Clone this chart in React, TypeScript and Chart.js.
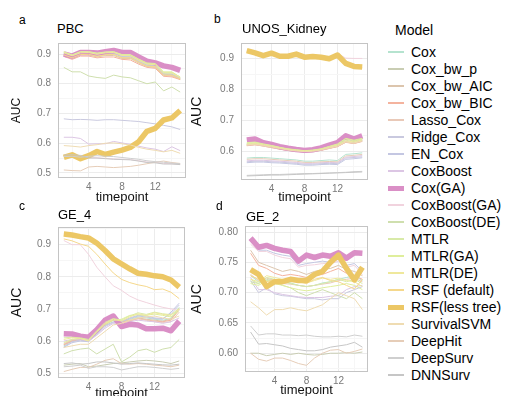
import React, { useEffect, useRef } from "react";
import { Chart, registerables } from "chart.js";

Chart.register(...registerables);

const TIMEPOINTS = [1, 2, 3, 4, 5, 6, 7, 8, 9, 10, 11, 12, 13, 14, 15];
const X_TICKS = [4, 8, 12];

const MODELS = [
  "Cox", "Cox_bw_p", "Cox_bw_AIC", "Cox_bw_BIC", "Lasso_Cox", "Ridge_Cox", "EN_Cox", "CoxBoost",
  "Cox(GA)", "CoxBoost(GA)", "CoxBoost(DE)", "MTLR", "MTLR(GA)", "MTLR(DE)", "RSF (default)",
  "RSF(less tree)", "SurvivalSVM", "DeepHit", "DeepSurv", "DNNSurv",
];
const HIGHLIGHTED = ["Cox(GA)", "RSF(less tree)"];
const MODEL_COLORS = [
  "#b5e3cf", "#c9cdb3", "#dcc5ad", "#f4b39e", "#e9c9b8", "#c9c9df", "#c4c7e2", "#dcc6e4",
  "#da8fc6", "#f1d3de", "#cfdfae", "#d8eaa8", "#dfee9c", "#efe89c", "#f5d88c",
  "#ecc765", "#efdcb2", "#e6cdb8", "#cfcfcf", "#c6c6c6",
];

// PBC: one row per model (MODELS order), one value per timepoint
const PBC_AUC = [
  [0.905, 0.895, 0.905, 0.905, 0.900, 0.905, 0.905, 0.895, 0.895, 0.880, 0.865, 0.865, 0.835, 0.835, 0.820],
  [0.900, 0.890, 0.900, 0.902, 0.895, 0.900, 0.902, 0.890, 0.890, 0.875, 0.862, 0.860, 0.832, 0.830, 0.818],
  [0.895, 0.885, 0.897, 0.897, 0.890, 0.895, 0.895, 0.885, 0.885, 0.870, 0.858, 0.855, 0.828, 0.826, 0.815],
  [0.892, 0.882, 0.893, 0.893, 0.887, 0.890, 0.890, 0.882, 0.880, 0.866, 0.855, 0.852, 0.825, 0.823, 0.814],
  [0.898, 0.888, 0.900, 0.900, 0.893, 0.898, 0.898, 0.888, 0.888, 0.873, 0.860, 0.858, 0.830, 0.828, 0.817],
  [0.682, 0.679, 0.680, 0.679, 0.677, 0.679, 0.679, 0.677, 0.675, 0.673, 0.669, 0.665, 0.660, 0.655, 0.646],
  [0.902, 0.892, 0.902, 0.903, 0.897, 0.902, 0.903, 0.892, 0.892, 0.877, 0.863, 0.862, 0.833, 0.832, 0.819],
  [0.620, 0.620, 0.616, 0.597, 0.598, 0.598, 0.606, 0.601, 0.596, 0.590, 0.584, 0.580, 0.572, 0.588, 0.575],
  [0.900, 0.893, 0.905, 0.905, 0.903, 0.908, 0.912, 0.905, 0.905, 0.890, 0.876, 0.870, 0.860, 0.855, 0.845],
  [0.560, 0.560, 0.558, 0.552, 0.551, 0.549, 0.547, 0.546, 0.545, 0.541, 0.537, 0.536, 0.532, 0.531, 0.529],
  [0.855, 0.840, 0.840, 0.826, 0.821, 0.818, 0.829, 0.823, 0.820, 0.810, 0.800, 0.806, 0.776, 0.789, 0.772],
  [0.906, 0.896, 0.907, 0.907, 0.902, 0.906, 0.907, 0.897, 0.897, 0.882, 0.868, 0.867, 0.838, 0.838, 0.823],
  [0.908, 0.897, 0.908, 0.908, 0.903, 0.907, 0.908, 0.898, 0.898, 0.883, 0.870, 0.868, 0.840, 0.840, 0.822],
  [0.904, 0.894, 0.904, 0.905, 0.899, 0.904, 0.905, 0.895, 0.894, 0.879, 0.866, 0.864, 0.836, 0.836, 0.821],
  [0.897, 0.887, 0.898, 0.899, 0.892, 0.897, 0.898, 0.887, 0.887, 0.872, 0.859, 0.857, 0.829, 0.829, 0.816],
  [0.552, 0.561, 0.548, 0.558, 0.572, 0.562, 0.570, 0.577, 0.586, 0.605, 0.640, 0.650, 0.678, 0.685, 0.710],
  [0.592, 0.590, 0.587, 0.592, 0.595, 0.600, 0.601, 0.598, 0.594, 0.586, 0.580, 0.576, 0.571, 0.576, 0.566],
  [0.510, 0.508, 0.507, 0.520, 0.522, 0.520, 0.518, 0.520, 0.522, 0.526, 0.531, 0.536, 0.540, 0.535, 0.532],
  [0.555, 0.556, 0.553, 0.556, 0.558, 0.556, 0.555, 0.552, 0.549, 0.546, 0.541, 0.538, 0.536, 0.533, 0.531],
  [0.560, 0.561, 0.559, 0.550, 0.550, 0.548, 0.546, 0.545, 0.544, 0.540, 0.535, 0.534, 0.530, 0.530, 0.528],
];

const UNOS_AUC = [
  [0.578, 0.580, 0.580, 0.578, 0.576, 0.574, 0.572, 0.568, 0.568, 0.570, 0.572, 0.570, 0.590, 0.592, 0.595],
  [0.622, 0.624, 0.620, 0.615, 0.610, 0.605, 0.602, 0.600, 0.601, 0.605, 0.612, 0.618, 0.632, 0.628, 0.635],
  [0.620, 0.622, 0.618, 0.613, 0.608, 0.604, 0.600, 0.598, 0.600, 0.604, 0.610, 0.616, 0.630, 0.626, 0.633],
  [0.618, 0.621, 0.617, 0.612, 0.607, 0.603, 0.600, 0.598, 0.599, 0.603, 0.609, 0.615, 0.629, 0.625, 0.632],
  [0.619, 0.622, 0.617, 0.612, 0.607, 0.603, 0.600, 0.598, 0.599, 0.603, 0.610, 0.616, 0.630, 0.626, 0.633],
  [0.566, 0.568, 0.568, 0.566, 0.565, 0.563, 0.561, 0.558, 0.558, 0.560, 0.561, 0.560, 0.578, 0.580, 0.582],
  [0.563, 0.565, 0.565, 0.563, 0.562, 0.560, 0.558, 0.555, 0.555, 0.557, 0.558, 0.557, 0.574, 0.576, 0.579],
  [0.569, 0.571, 0.571, 0.569, 0.568, 0.566, 0.564, 0.561, 0.561, 0.563, 0.564, 0.563, 0.581, 0.583, 0.586],
  [0.637, 0.640, 0.628, 0.622, 0.615, 0.610, 0.606, 0.603, 0.605, 0.611, 0.620, 0.628, 0.650, 0.640, 0.650],
  [0.928, 0.922, 0.915, 0.920, 0.912, 0.911, 0.917, 0.908, 0.910, 0.908, 0.905, 0.917, 0.902, 0.901, 0.901],
  [0.624, 0.626, 0.622, 0.617, 0.612, 0.607, 0.604, 0.602, 0.603, 0.607, 0.614, 0.621, 0.636, 0.631, 0.638],
  [0.626, 0.628, 0.623, 0.618, 0.612, 0.607, 0.604, 0.601, 0.603, 0.607, 0.615, 0.622, 0.640, 0.634, 0.640],
  [0.628, 0.630, 0.624, 0.619, 0.613, 0.608, 0.605, 0.602, 0.604, 0.608, 0.616, 0.624, 0.642, 0.636, 0.642],
  [0.623, 0.625, 0.621, 0.616, 0.611, 0.606, 0.603, 0.601, 0.602, 0.606, 0.613, 0.620, 0.634, 0.630, 0.637],
  [0.924, 0.917, 0.909, 0.916, 0.906, 0.906, 0.913, 0.903, 0.905, 0.903, 0.898, 0.910, 0.883, 0.873, 0.871],
  [0.926, 0.919, 0.910, 0.918, 0.908, 0.908, 0.915, 0.905, 0.907, 0.905, 0.900, 0.912, 0.885, 0.875, 0.873],
  [0.621, 0.623, 0.619, 0.614, 0.609, 0.604, 0.601, 0.599, 0.600, 0.604, 0.611, 0.617, 0.631, 0.627, 0.634],
  [0.574, 0.576, 0.576, 0.574, 0.572, 0.570, 0.568, 0.564, 0.564, 0.566, 0.567, 0.566, 0.585, 0.587, 0.590],
  [0.522, 0.523, 0.524, 0.525, 0.525, 0.526, 0.527, 0.528, 0.528, 0.529, 0.530, 0.531, 0.532, 0.534, 0.535],
  [0.520, 0.521, 0.522, 0.523, 0.523, 0.524, 0.525, 0.526, 0.527, 0.528, 0.529, 0.530, 0.531, 0.532, 0.533],
];

const GE4_AUC = [
  [0.585, 0.600, 0.605, 0.600, 0.625, 0.650, 0.665, 0.660, 0.668, 0.675, 0.672, 0.668, 0.665, 0.670, 0.705],
  [0.525, 0.528, 0.530, 0.520, 0.522, 0.526, 0.530, 0.532, 0.535, 0.538, 0.540, 0.538, 0.535, 0.530, 0.538],
  [0.590, 0.602, 0.606, 0.602, 0.628, 0.652, 0.668, 0.660, 0.665, 0.672, 0.668, 0.665, 0.662, 0.668, 0.700],
  [0.588, 0.600, 0.604, 0.600, 0.626, 0.650, 0.666, 0.658, 0.663, 0.670, 0.666, 0.662, 0.660, 0.665, 0.698],
  [0.592, 0.603, 0.607, 0.603, 0.630, 0.654, 0.668, 0.655, 0.662, 0.670, 0.665, 0.660, 0.658, 0.660, 0.690],
  [0.582, 0.598, 0.603, 0.600, 0.620, 0.645, 0.658, 0.660, 0.672, 0.680, 0.678, 0.672, 0.670, 0.685, 0.712],
  [0.580, 0.595, 0.600, 0.598, 0.622, 0.648, 0.660, 0.662, 0.670, 0.678, 0.675, 0.670, 0.668, 0.690, 0.718],
  [0.600, 0.605, 0.606, 0.600, 0.618, 0.640, 0.655, 0.648, 0.660, 0.665, 0.662, 0.660, 0.655, 0.660, 0.672],
  [0.623, 0.622, 0.615, 0.612, 0.635, 0.665, 0.678, 0.645, 0.652, 0.650, 0.638, 0.638, 0.640, 0.632, 0.662],
  [0.913, 0.900, 0.900, 0.870, 0.830, 0.800, 0.772, 0.758, 0.740, 0.728, 0.720, 0.712, 0.705, 0.700, 0.695],
  [0.560, 0.570, 0.575, 0.578, 0.560, 0.575, 0.590, 0.535, 0.550, 0.570, 0.575, 0.565, 0.575, 0.580, 0.605],
  [0.610, 0.612, 0.610, 0.605, 0.632, 0.658, 0.670, 0.665, 0.678, 0.688, 0.683, 0.690, 0.685, 0.682, 0.702],
  [0.595, 0.605, 0.608, 0.602, 0.628, 0.652, 0.664, 0.668, 0.680, 0.682, 0.680, 0.684, 0.680, 0.675, 0.695],
  [0.605, 0.610, 0.608, 0.600, 0.630, 0.655, 0.668, 0.662, 0.675, 0.685, 0.680, 0.688, 0.683, 0.680, 0.700],
  [0.918, 0.912, 0.902, 0.895, 0.870, 0.840, 0.812, 0.792, 0.782, 0.775, 0.770, 0.760, 0.762, 0.752, 0.732],
  [0.933, 0.930, 0.925, 0.921, 0.905, 0.882, 0.856, 0.840, 0.825, 0.811, 0.808, 0.803, 0.800, 0.790, 0.768],
  [0.580, 0.585, 0.590, 0.590, 0.610, 0.630, 0.650, 0.655, 0.665, 0.672, 0.675, 0.678, 0.672, 0.668, 0.678],
  [0.505, 0.512, 0.518, 0.518, 0.528, 0.540, 0.545, 0.530, 0.528, 0.530, 0.528, 0.525, 0.523, 0.520, 0.525],
  [0.520, 0.522, 0.525, 0.515, 0.520, 0.520, 0.518, 0.510, 0.515, 0.520, 0.520, 0.518, 0.515, 0.512, 0.515],
  [0.530, 0.532, 0.528, 0.530, 0.535, 0.535, 0.532, 0.528, 0.530, 0.532, 0.530, 0.528, 0.526, 0.525, 0.528],
];

const GE2_AUC = [
  [0.728, 0.718, 0.720, 0.722, 0.718, 0.716, 0.712, 0.710, 0.712, 0.716, 0.718, 0.722, 0.725, 0.728, 0.720],
  [0.600, 0.600, 0.596, 0.598, 0.600, 0.598, 0.600, 0.598, 0.597, 0.598, 0.600, 0.600, 0.601, 0.600, 0.602],
  [0.770, 0.750, 0.745, 0.740, 0.735, 0.738, 0.735, 0.730, 0.735, 0.738, 0.740, 0.745, 0.738, 0.735, 0.728],
  [0.765, 0.745, 0.740, 0.732, 0.728, 0.730, 0.728, 0.725, 0.728, 0.730, 0.735, 0.740, 0.732, 0.728, 0.722],
  [0.730, 0.720, 0.724, 0.720, 0.715, 0.714, 0.712, 0.710, 0.712, 0.714, 0.716, 0.720, 0.722, 0.724, 0.718],
  [0.720, 0.700, 0.708, 0.698, 0.695, 0.694, 0.692, 0.690, 0.690, 0.688, 0.690, 0.690, 0.700, 0.705, 0.710],
  [0.785, 0.770, 0.770, 0.765, 0.762, 0.760, 0.745, 0.748, 0.750, 0.752, 0.750, 0.755, 0.745, 0.748, 0.735],
  [0.725, 0.705, 0.705, 0.700, 0.697, 0.695, 0.693, 0.692, 0.692, 0.692, 0.694, 0.695, 0.705, 0.710, 0.712],
  [0.790, 0.775, 0.778, 0.773, 0.770, 0.768, 0.752, 0.762, 0.758, 0.762, 0.760, 0.766, 0.757, 0.766, 0.765],
  [0.780, 0.768, 0.768, 0.762, 0.758, 0.756, 0.742, 0.745, 0.746, 0.748, 0.748, 0.752, 0.742, 0.745, 0.730],
  [0.718, 0.715, 0.722, 0.718, 0.712, 0.708, 0.700, 0.695, 0.700, 0.705, 0.700, 0.695, 0.690, 0.700, 0.690],
  [0.722, 0.715, 0.725, 0.722, 0.718, 0.715, 0.712, 0.710, 0.712, 0.715, 0.718, 0.722, 0.718, 0.722, 0.715],
  [0.715, 0.712, 0.720, 0.715, 0.712, 0.708, 0.705, 0.703, 0.705, 0.708, 0.710, 0.712, 0.715, 0.712, 0.705],
  [0.722, 0.718, 0.728, 0.725, 0.722, 0.720, 0.718, 0.716, 0.720, 0.724, 0.722, 0.724, 0.720, 0.718, 0.710],
  [0.728, 0.722, 0.718, 0.722, 0.720, 0.722, 0.718, 0.715, 0.722, 0.725, 0.720, 0.718, 0.712, 0.706, 0.722],
  [0.738, 0.730, 0.710, 0.718, 0.718, 0.722, 0.720, 0.720, 0.730, 0.735, 0.750, 0.762, 0.740, 0.721, 0.742],
  [0.685, 0.675, 0.663, 0.672, 0.672, 0.675, 0.672, 0.670, 0.675, 0.680, 0.690, 0.700, 0.695, 0.690, 0.672],
  [0.600, 0.590, 0.587, 0.592, 0.592, 0.588, 0.583, 0.580, 0.592, 0.600, 0.605, 0.606, 0.600, 0.603, 0.607],
  [0.645, 0.630, 0.632, 0.632, 0.630, 0.630, 0.629, 0.630, 0.628, 0.627, 0.627, 0.628, 0.627, 0.630, 0.628],
  [0.635, 0.615, 0.616, 0.614, 0.612, 0.608, 0.606, 0.604, 0.604, 0.606, 0.610, 0.612, 0.614, 0.618, 0.610],
];

const PBC_Y_TICKS = [0.5, 0.6, 0.7, 0.8, 0.9];
const PBC_Y_LABELS = ["0.5", "0.6", "0.7", "0.8", "0.9"];
const UNOS_Y_TICKS = [0.6, 0.7, 0.8, 0.9];
const UNOS_Y_LABELS = ["0.6", "0.7", "0.8", "0.9"];
const GE4_Y_TICKS = [0.5, 0.6, 0.7, 0.8, 0.9];
const GE4_Y_LABELS = ["0.5", "0.6", "0.7", "0.8", "0.9"];
const GE2_Y_TICKS = [0.6, 0.65, 0.7, 0.75, 0.8];
const GE2_Y_LABELS = ["0.60", "0.65", "0.70", "0.75", "0.80"];

const FONT = "'Liberation Sans', Arial, Helvetica, sans-serif";

type PanelDef = {
  letter: string;
  title: string;
  data: number[][];
  yTicks: number[];
  yLabels: string[];
  yMin: number;
  yMax: number;
  left: number;
  top: number;
  width: number;
  height: number;
  yW: number;
  xH: number;
  padTop: number;
  padRight: number;
  auc: number;
  letterPos: [number, number];
  titlePos: [number, number];
};

const PANELS: PanelDef[] = [
  {
    letter: "a", title: "PBC", data: PBC_AUC, yTicks: PBC_Y_TICKS, yLabels: PBC_Y_LABELS,
    yMin: 0.483, yMax: 0.937, left: 0, top: 30, width: 192, height: 175, yW: 58, xH: 27,
    padTop: 12, padRight: 6, auc: 12, letterPos: [19, 13], titlePos: [57, 21],
  },
  {
    letter: "b", title: "UNOS_Kidney", data: UNOS_AUC, yTicks: UNOS_Y_TICKS, yLabels: UNOS_Y_LABELS,
    yMin: 0.507, yMax: 0.951, left: 180, top: 30, width: 194, height: 175, yW: 61, xH: 25,
    padTop: 11, padRight: 6, auc: 14, letterPos: [214, 12], titlePos: [242, 21],
  },
  {
    letter: "c", title: "GE_4", data: GE4_AUC, yTicks: GE4_Y_TICKS, yLabels: GE4_Y_LABELS,
    yMin: 0.485, yMax: 0.955, left: 0, top: 214, width: 191, height: 187, yW: 58, xH: 23,
    padTop: 10, padRight: 6, auc: 14, letterPos: [19, 199], titlePos: [58, 207],
  },
  {
    letter: "d", title: "GE_2", data: GE2_AUC, yTicks: GE2_Y_TICKS, yLabels: GE2_Y_LABELS,
    yMin: 0.569, yMax: 0.81, left: 180, top: 213, width: 194, height: 185, yW: 65, xH: 26,
    padTop: 10, padRight: 6, auc: 14, letterPos: [216, 199], titlePos: [246, 209],
  },
];

const borderPlugin = {
  id: "panelBorder",
  afterDraw(chart: any) {
    const { ctx, chartArea } = chart;
    ctx.save();
    ctx.strokeStyle = "#c4c4c4";
    ctx.lineWidth = 1;
    ctx.strokeRect(
      Math.round(chartArea.left) + 0.5,
      Math.round(chartArea.top) + 0.5,
      Math.round(chartArea.right - chartArea.left) - 1,
      Math.round(chartArea.bottom - chartArea.top) - 1
    );
    ctx.restore();
  },
};

function Panel({ p }: { p: PanelDef }) {
  const ref = useRef<HTMLCanvasElement>(null);
  useEffect(() => {
    if (!ref.current) return;
    const datasets = MODELS.map((m, i) => {
      const thick = HIGHLIGHTED.includes(m);
      return {
        label: m,
        data: TIMEPOINTS.map((t, j) => ({ x: t, y: p.data[i][j] })),
        borderColor: MODEL_COLORS[i],
        backgroundColor: MODEL_COLORS[i],
        borderWidth: thick ? 5.5 : 1,
        pointRadius: 0,
        tension: 0,
        fill: false,
        borderJoinStyle: "round" as const,
        borderCapStyle: "butt" as const,
        order: -i,
      };
    });
    const minorY: number[] = [];
    for (let k = 0; k < p.yTicks.length - 1; k++) minorY.push((p.yTicks[k] + p.yTicks[k + 1]) / 2);
    const step = p.yTicks[1] - p.yTicks[0];
    if (p.yTicks[0] - step / 2 > p.yMin) minorY.push(p.yTicks[0] - step / 2);
    if (p.yTicks[p.yTicks.length - 1] + step / 2 < p.yMax) minorY.push(p.yTicks[p.yTicks.length - 1] + step / 2);
    const minorX = X_TICKS.map((v) => v - 2).concat([X_TICKS[X_TICKS.length - 1] + 2]);

    const chart = new Chart(ref.current, {
      type: "line",
      data: { datasets },
      plugins: [borderPlugin],
      options: {
        animation: false,
        responsive: false,
        maintainAspectRatio: false,
        layout: { padding: { top: p.padTop, right: p.padRight, left: 0, bottom: 0 } },
        plugins: { legend: { display: false }, tooltip: { enabled: false } },
        scales: {
          x: {
            type: "linear",
            min: 0.3,
            max: 15.7,
            border: { display: false },
            grid: {
              drawTicks: false,
              color: (c: any) => (X_TICKS.includes(c.tick?.value) ? "#ececec" : "#f6f6f6"),
              lineWidth: 1,
            },
            afterBuildTicks: (s: any) => {
              s.ticks = [...X_TICKS, ...minorX].sort((a, b) => a - b).map((v) => ({ value: v }));
            },
            afterFit: (s: any) => {
              s.height = p.xH;
            },
            ticks: {
              autoSkip: false,
              maxRotation: 0,
              padding: 3,
              color: "#7a7a7a",
              font: { family: FONT, size: 10 },
              callback: (v: any) => (X_TICKS.includes(v) ? String(v) : ""),
            },
            title: {
              display: true,
              text: "timepoint",
              color: "#111",
              padding: { top: 0, bottom: 0 },
              font: { family: FONT, size: 13 },
            },
          },
          y: {
            type: "linear",
            min: p.yMin,
            max: p.yMax,
            border: { display: false },
            grid: {
              drawTicks: false,
              color: (c: any) =>
                p.yTicks.some((t) => Math.abs(t - c.tick?.value) < 1e-9) ? "#ececec" : "#f6f6f6",
              lineWidth: 1,
            },
            afterBuildTicks: (s: any) => {
              s.ticks = [...p.yTicks, ...minorY].sort((a, b) => a - b).map((v) => ({ value: v }));
            },
            afterFit: (s: any) => {
              s.width = p.yW;
            },
            ticks: {
              autoSkip: false,
              padding: 7,
              color: "#7a7a7a",
              font: { family: FONT, size: 10 },
              callback: (v: any) => {
                const idx = p.yTicks.findIndex((t) => Math.abs(t - v) < 1e-9);
                return idx >= 0 ? p.yLabels[idx] : "";
              },
            },
            title: {
              display: true,
              text: "AUC",
              color: "#111",
              padding: { top: 9, bottom: 0 },
              font: { family: FONT, size: p.auc },
            },
          },
        },
      },
    } as any);
    return () => chart.destroy();
  }, [p]);

  return (
    <>
      <div
        style={{
          position: "absolute", left: p.letterPos[0], top: p.letterPos[1],
          fontFamily: FONT, fontSize: 12, lineHeight: "14px", color: "#000",
        }}
      >
        {p.letter}
      </div>
      <div
        style={{
          position: "absolute", left: p.titlePos[0], top: p.titlePos[1],
          fontFamily: FONT, fontSize: 13, lineHeight: "16px", color: "#000", whiteSpace: "nowrap",
        }}
      >
        {p.title}
      </div>
      <canvas
        ref={ref}
        width={p.width}
        height={p.height}
        style={{ position: "absolute", left: p.left, top: p.top, width: p.width, height: p.height }}
      />
    </>
  );
}

function Legend() {
  return (
    <>
      <div
        style={{
          position: "absolute", left: 395, top: 21, fontFamily: FONT, fontSize: 14,
          lineHeight: "18px", color: "#000",
        }}
      >
        Model
      </div>
      {MODELS.map((m, i) => {
        const cy = 52 + i * 17;
        const thick = HIGHLIGHTED.includes(m);
        const h = thick ? 5 : 1.5;
        return (
          <React.Fragment key={m}>
            <div
              style={{
                position: "absolute", left: 388, top: cy - h / 2, width: 16, height: h,
                background: MODEL_COLORS[i],
              }}
            />
            <div
              style={{
                position: "absolute", left: 411, top: cy - 9, fontFamily: FONT, fontSize: 14,
                lineHeight: "18px", color: "#000", whiteSpace: "nowrap",
              }}
            >
              {m}
            </div>
          </React.Fragment>
        );
      })}
    </>
  );
}

export default function App() {
  return (
    <div
      style={{
        position: "fixed", left: 0, top: 0, width: 514, height: 396, overflow: "hidden",
        background: "#fff",
      }}
    >
      {PANELS.map((p) => (
        <Panel key={p.letter} p={p} />
      ))}
      <Legend />
    </div>
  );
}
